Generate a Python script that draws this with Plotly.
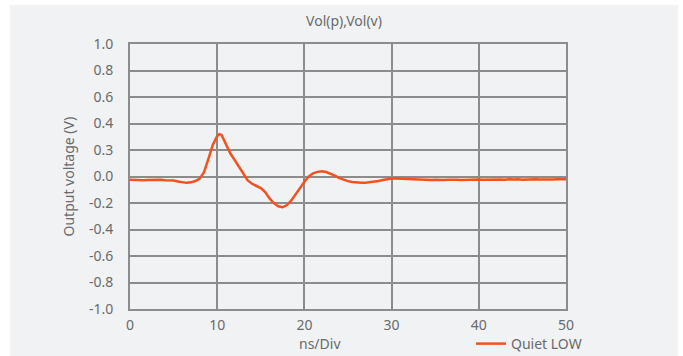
import plotly.graph_objects as go

# Time axis (ns) and measured output voltage (V) of the quiet-low line
time_ns = [
    0.0, 0.5, 1.0, 1.5, 2.0, 2.5, 3.0, 3.5, 4.0, 4.5,
    5.0, 5.5, 6.0, 6.5, 7.0, 7.5, 8.0, 8.5, 9.0, 9.5,
    10.0, 10.25, 10.5, 11.0, 11.5, 12.0, 12.5, 13.0, 13.5, 14.0,
    14.5, 15.0, 15.5, 16.0, 16.5, 17.0, 17.5, 18.0, 18.5, 19.0,
    19.5, 20.0, 20.5, 21.0, 21.5, 22.0, 22.5, 23.0, 23.5, 24.0,
    24.5, 25.0, 25.5, 26.0, 26.5, 27.0, 27.5, 28.0, 28.5, 29.0,
    29.5, 30.0, 30.5, 31.0, 31.5, 32.0, 32.5, 33.0, 33.5, 34.0,
    34.5, 35.0, 35.5, 36.0, 36.5, 37.0, 37.5, 38.0, 38.5, 39.0,
    39.5, 40.0, 40.5, 41.0, 41.5, 42.0, 42.5, 43.0, 43.5, 44.0,
    44.5, 45.0, 45.5, 46.0, 46.5, 47.0, 47.5, 48.0, 48.5, 49.0,
    49.5, 50.0,
]
quiet_low = [
    -0.024, -0.027, -0.025, -0.028, -0.026, -0.024, -0.027, -0.025, -0.028, -0.027,
    -0.031, -0.037, -0.045, -0.048, -0.044, -0.034, -0.016, 0.035, 0.135, 0.240,
    0.306, 0.320, 0.314, 0.245, 0.175, 0.125, 0.070, 0.018, -0.030, -0.055,
    -0.070, -0.088, -0.118, -0.165, -0.200, -0.225, -0.232, -0.215, -0.180, -0.130,
    -0.085, -0.040, 0.000, 0.024, 0.035, 0.040, 0.034, 0.022, 0.006, -0.012,
    -0.026, -0.035, -0.042, -0.046, -0.048, -0.047, -0.044, -0.040, -0.034, -0.026,
    -0.019, -0.016, -0.015, -0.017, -0.020, -0.022, -0.024, -0.023, -0.026, -0.025,
    -0.027, -0.025, -0.028, -0.026, -0.024, -0.027, -0.025, -0.026, -0.024, -0.025,
    -0.023, -0.022, -0.025, -0.023, -0.021, -0.024, -0.022, -0.025, -0.021, -0.023,
    -0.020, -0.024, -0.021, -0.023, -0.020, -0.022, -0.024, -0.021, -0.023, -0.020,
    -0.022, -0.021,
]

x_ticks = [0, 10, 20, 30, 40, 50]
y_ticks = [1.0, 0.8, 0.6, 0.4, 0.2, 0.0, -0.2, -0.4, -0.6, -0.8, -1.0]
y_tick_text = ["1.0", "0.8", "0.6", "0.4", "0.3", "0.0", "-0.2", "-0.4", "-0.6", "-0.8", "-1.0"]

FONT = "Noto Sans"
SIZE = 14
TEXT = "#6a6a6a"
GRID = "#8c8c8c"
PANEL = "#f1f2f4"

fig = go.Figure()
fig.add_trace(go.Scatter(
    x=time_ns, y=quiet_low, mode="lines", name="Quiet LOW",
    line=dict(color="#f4511e", width=2.5),
))

W, H = 683, 356
L, R, T, B = 130, 117, 44, 47
pw, ph = W - L - R, H - T - B

def px_x(p):
    return (p - L) / pw

def px_y(p):
    return (H - B - p) / ph

# light panel behind the whole chart, leaving a thin white edge top and left
fig.add_shape(type="rect", xref="paper", yref="paper", layer="below",
              x0=px_x(10), x1=px_x(678), y0=px_y(H + 5), y1=px_y(5),
              fillcolor=PANEL, line=dict(width=0))

fig.add_annotation(text="Output voltage (V)", textangle=-90, showarrow=False,
                   xref="paper", yref="paper", x=px_x(68), y=0.5,
                   xanchor="center", yanchor="middle",
                   font=dict(family=FONT, size=SIZE, color=TEXT))
fig.add_annotation(text="ns/Div", showarrow=False,
                   xref="paper", yref="paper", x=px_x(320), y=px_y(343),
                   xanchor="center", yanchor="middle",
                   font=dict(family=FONT, size=SIZE, color=TEXT))

fig.update_layout(
    width=W, height=H,
    margin=dict(l=L, r=R, t=T, b=B, autoexpand=False),
    paper_bgcolor="white", plot_bgcolor=PANEL,
    title=dict(text="Vol(p),Vol(v)", x=px_x(344), xref="paper",
               y=1 - 21 / H, yanchor="middle", xanchor="center",
               font=dict(family=FONT, size=SIZE, color=TEXT)),
    font=dict(family=FONT, size=SIZE, color=TEXT),
    showlegend=True,
    legend=dict(orientation="h", x=px_x(471), y=px_y(344), xanchor="left",
                yanchor="middle", bgcolor="rgba(0,0,0,0)",
                font=dict(family=FONT, size=SIZE, color=TEXT)),
    xaxis=dict(range=[0, 50], tickvals=x_ticks, ticktext=[str(v) for v in x_ticks],
               showgrid=True, gridcolor=GRID, gridwidth=2, zeroline=False,
               showline=True, linecolor=GRID, linewidth=2, mirror=True,
               ticks="", ticklabelstandoff=2),
    yaxis=dict(range=[-1, 1], tickvals=y_ticks, ticktext=y_tick_text,
               showgrid=True, gridcolor=GRID, gridwidth=2, zeroline=False,
               showline=True, linecolor=GRID, linewidth=2, mirror=True,
               ticks="", ticklabelstandoff=12),
)

fig.write_html("out.html")
